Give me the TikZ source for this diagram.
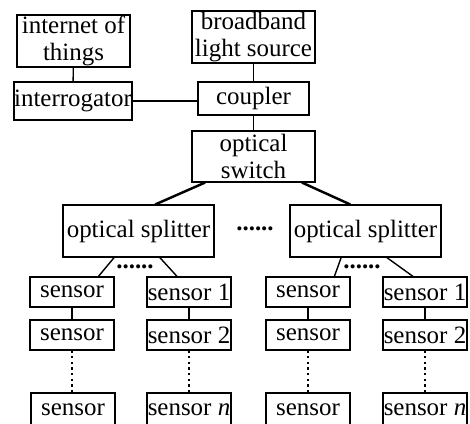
\documentclass[tikz,border=0pt]{standalone}
\usepackage{fontspec}
\setmainfont{Liberation Serif}
\usetikzlibrary{calc}

\begin{document}
\begin{tikzpicture}[
  x=0.02cm, y=-0.02cm,
  every node/.style={font=\fontsize{14.2}{15}\selectfont, inner sep=0pt},
  box/.style={draw, line width=0.6pt, align=center},
  sensorbox/.style={box, minimum width=1.68cm, minimum height=0.6cm},
  lastbox/.style={sensorbox, minimum height=0.68cm},
  link/.style={line width=0.8pt},
  trunk/.style={line width=1.4pt},
  dotline/.style={line width=1.6pt, dash pattern=on 1.3pt off 1.9pt}
]
\useasboundingbox (0,0) rectangle (470,423);

% top part
\node[box, minimum width=2.26cm, minimum height=1.04cm] (iot) at (73.5,41) {internet of\\things};
\node[box, minimum width=2.36cm, minimum height=0.76cm] (interr) at (73,101) {interrogator};
\node[box, minimum width=2.46cm, minimum height=1.04cm] (source) at (253.5,37) {broadband\\light source};
\node[box, minimum width=2.22cm, minimum height=0.66cm] (coupler) at (253.5,98.5) {coupler};
\node[box, minimum width=2.46cm, minimum height=1.02cm] (switch) at (253.5,156.5) {optical\\switch};

\draw[link] (iot) -- (interr);
\draw[link] (source) -- (coupler);
\draw[link] (coupler) -- (switch);
\draw[trunk] (interr.east) -- (interr.east -| coupler.west);

% splitters
\node[box, minimum width=3.02cm, minimum height=1.04cm] (splitL) at (138.5,231) {optical splitter};
\node[box, minimum width=3.02cm, minimum height=1.04cm] (splitR) at (365.5,231) {optical splitter};
\node (dotsS) at (255,229) {\textbf{......}};

\draw[trunk] ($(switch.south west)!0.11!(switch.south east)$) -- ($(splitL.north west)!0.61!(splitL.north east)$);
\draw[trunk] ($(switch.south west)!0.89!(switch.south east)$) -- ($(splitR.north west)!0.40!(splitR.north east)$);

% sensors, left group
\node[sensorbox] (a1) at (72,292) {sensor};
\node[sensorbox] (a2) at (72,335) {sensor};
\node[lastbox] (a3) at (73,410) {sensor};
\node[sensorbox] (b1) at (189,292) {sensor 1};
\node[sensorbox] (b2) at (189,335) {sensor 2};
\node[lastbox] (b3) at (189,410) {sensor \textit{n}};
\node (dotsL) at (135,267) {\textbf{......}};

% sensors, right group
\node[sensorbox] (c1) at (308,292) {sensor};
\node[sensorbox] (c2) at (308,335) {sensor};
\node[lastbox] (c3) at (308,410) {sensor};
\node[sensorbox] (d1) at (425,292) {sensor 1};
\node[sensorbox] (d2) at (425,335) {sensor 2};
\node[lastbox] (d3) at (425,410) {sensor \textit{n}};
\node (dotsR) at (362,267) {\textbf{......}};

\draw[link] ($(splitL.south west)!0.34!(splitL.south east)$) -- ($(a1.north west)!0.81!(a1.north east)$);
\draw[link] ($(splitL.south west)!0.64!(splitL.south east)$) -- ($(b1.north west)!0.36!(b1.north east)$);
\draw[link] ($(splitR.south west)!0.34!(splitR.south east)$) -- ($(c1.north west)!0.81!(c1.north east)$);
\draw[link] ($(splitR.south west)!0.64!(splitR.south east)$) -- ($(d1.north west)!0.36!(d1.north east)$);

\draw[link] (a1) -- (a2);
\draw[link] (b1) -- (b2);
\draw[link] (c1) -- (c2);
\draw[link] (d1) -- (d2);
\draw[dotline] (a2.south) -- (a2.south |- a3.north);
\draw[dotline] (b2.south) -- (b3.north);
\draw[dotline] (c2.south) -- (c3.north);
\draw[dotline] (d2.south) -- (d3.north);

\end{tikzpicture}
\end{document}
